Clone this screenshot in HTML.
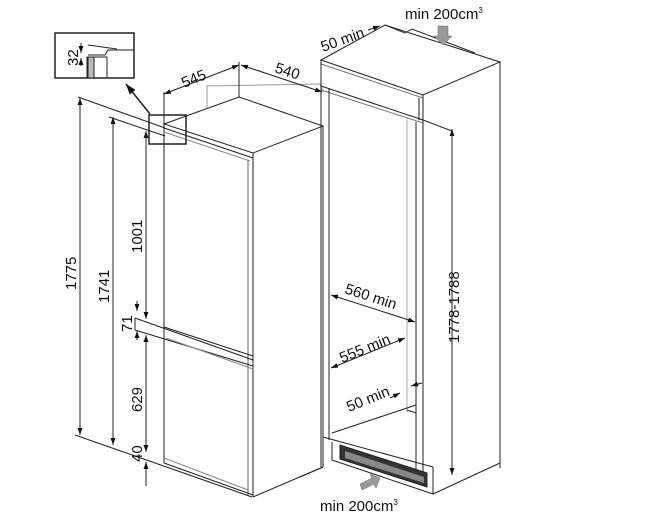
<!DOCTYPE html>
<html><head><meta charset="utf-8"><style>
html,body{margin:0;padding:0;background:#fff}
svg{display:block}
text{font-family:"Liberation Sans",Arial,sans-serif;fill:#111}
</style></head><body>
<svg width="646" height="519" viewBox="0 0 646 519" xmlns="http://www.w3.org/2000/svg">
<defs>
<marker id="a" viewBox="0 0 10 10" refX="10" refY="5" markerWidth="7" markerHeight="7" orient="auto-start-reverse"><path d="M0,1.5 L10,5 L0,8.5z" fill="#111"/></marker>
</defs>
<g fill="none" stroke="#222" stroke-width="1">
<polygon points="164,124 239,97 323,126 253,153" fill="#fff"/>
<line x1="164" y1="124" x2="164" y2="463"/>
<line x1="164" y1="128" x2="253" y2="158"/>
<line x1="164" y1="132" x2="250" y2="161" stroke="#888"/>
<line x1="253" y1="153" x2="253" y2="497"/>
<line x1="248" y1="160" x2="248" y2="495" stroke="#666"/>
<line x1="323" y1="126" x2="323" y2="467"/>
<line x1="253" y1="497" x2="323" y2="467"/>
<line x1="164" y1="463" x2="253" y2="495"/>
<line x1="164" y1="458" x2="248" y2="490" stroke="#888"/>
<line x1="164" y1="327" x2="253" y2="356"/>
<line x1="135" y1="318" x2="253" y2="360"/>
<line x1="135" y1="330" x2="253" y2="366"/>
<line x1="166" y1="338" x2="253" y2="369" stroke="#888"/>
<line x1="135" y1="318" x2="135" y2="330"/>
<polyline points="207,108 207,86 320,84 323,92" stroke="#999"/>
<line x1="239" y1="62" x2="239" y2="97"/>
<line x1="164" y1="92" x2="164" y2="124"/>
<line x1="321" y1="84" x2="321" y2="126" stroke="#999"/>
<line x1="78" y1="97" x2="165" y2="128"/>
<line x1="109" y1="117" x2="165" y2="136"/>
<line x1="75" y1="435" x2="252" y2="497"/>
<line x1="80" y1="98" x2="80" y2="435" marker-start="url(#a)" marker-end="url(#a)"/>
<line x1="113" y1="117" x2="113" y2="445" marker-start="url(#a)" marker-end="url(#a)"/>
<line x1="146" y1="131" x2="146" y2="319" marker-start="url(#a)" marker-end="url(#a)"/>
<line x1="137" y1="311" x2="137" y2="301" marker-start="url(#a)"/>
<line x1="137" y1="331" x2="137" y2="340" marker-start="url(#a)"/>
<line x1="146" y1="335" x2="146" y2="452" marker-start="url(#a)" marker-end="url(#a)"/>
<line x1="146" y1="462" x2="146" y2="486" marker-start="url(#a)"/>
<line x1="164" y1="94" x2="239" y2="65" marker-start="url(#a)" marker-end="url(#a)"/>
<line x1="241" y1="65" x2="322" y2="92" marker-start="url(#a)" marker-end="url(#a)"/>
<rect x="55" y="33" width="79" height="45" stroke-width="1.5"/>
<line x1="88" y1="45" x2="117" y2="49"/>
<polyline points="88,55 105,55 108,50 134,50"/>
<rect x="87" y="57" width="20" height="21"/>
<rect x="88" y="57" width="6" height="21" fill="#bbb"/>
<line x1="81" y1="43" x2="81" y2="53" marker-end="url(#a)"/><line x1="81" y1="66" x2="81" y2="58" marker-end="url(#a)"/>
<rect x="149" y="115" width="37" height="29" stroke-width="1.5"/>
<line x1="150" y1="114" x2="126" y2="84" stroke-width="1.5" marker-end="url(#a)"/>
<polygon points="321,60 385,25 500,62 423,95" fill="#fff"/>
<polyline points="385,25 405,33 412,29 475,53"/>
<line x1="321" y1="64" x2="423" y2="98" stroke="#777"/>
<line x1="321" y1="86" x2="423" y2="120"/>
<line x1="321" y1="90" x2="423" y2="123" stroke="#777"/>
<line x1="423" y1="95" x2="423" y2="475"/>
<line x1="419" y1="98" x2="419" y2="120"/>
<line x1="416" y1="122" x2="416" y2="470"/>
<line x1="407" y1="118" x2="407" y2="412" stroke="#aaa"/>
<line x1="500" y1="62" x2="500" y2="468"/>
<line x1="321" y1="60" x2="321" y2="467"/>
<line x1="329" y1="88" x2="329" y2="440"/>
<line x1="332" y1="433" x2="416" y2="405"/>
<line x1="407" y1="410" x2="416" y2="413"/>
<line x1="323" y1="437" x2="433" y2="467"/>
<polyline points="332,442 332,460 433,494 433,467"/>
<polygon points="340,445 340,459 427,487 427,473" fill="#333"/>
<polygon points="345,451 345,458 424,483 424,477" fill="#888" stroke="none"/>
<line x1="300" y1="477" x2="323" y2="467"/>
<line x1="433" y1="494" x2="500" y2="463"/>
<line x1="423" y1="120" x2="452" y2="131"/>
<line x1="452" y1="129" x2="452" y2="475" marker-start="url(#a)" marker-end="url(#a)"/>
<line x1="331" y1="295" x2="415" y2="322" marker-start="url(#a)" marker-end="url(#a)"/>
<line x1="331" y1="368" x2="405" y2="338" marker-start="url(#a)" marker-end="url(#a)"/>
<line x1="390" y1="398" x2="400" y2="393" marker-end="url(#a)"/>
<line x1="422" y1="383" x2="411" y2="386" marker-end="url(#a)"/>
<line x1="368" y1="30" x2="380" y2="26" marker-end="url(#a)"/>
</g>
<polygon points="438,26 448,26 448,36 452,36 443,45 434,36 438,36" fill="#999" stroke="#666" stroke-width="0.5"/>
<polygon points="360,484 372,478 370,474 380,478 376,488 374,484 362,490" fill="#999" stroke="#666" stroke-width="0.5"/>
<g font-size="15">
<text transform="translate(76,290) rotate(-90)">1775</text>
<text transform="translate(109,303) rotate(-90)">1741</text>
<text transform="translate(142,253) rotate(-90)">1001</text>
<text transform="translate(132,332) rotate(-90)">71</text>
<text transform="translate(142,412) rotate(-90)">629</text>
<text transform="translate(142,462) rotate(-90)">40</text>
<text transform="translate(78,66) rotate(-90)">32</text>
<text transform="translate(184,88) rotate(-22)">545</text>
<text transform="translate(274,72) rotate(18)">540</text>
<text transform="translate(323,52) rotate(-20)">50 min</text>
<text x="405" y="19">min 200cm<tspan font-size="8" dy="-6">3</tspan></text>
<text transform="translate(459,343) rotate(-90)">1778-1788</text>
<text transform="translate(344,293) rotate(18)">560 min</text>
<text transform="translate(342,363) rotate(-22)">555 min</text>
<text transform="translate(349,412) rotate(-22)">50 min</text>
<text x="320" y="511">min 200cm<tspan font-size="8" dy="-6">3</tspan></text>
</g>
</svg>
</body></html>
